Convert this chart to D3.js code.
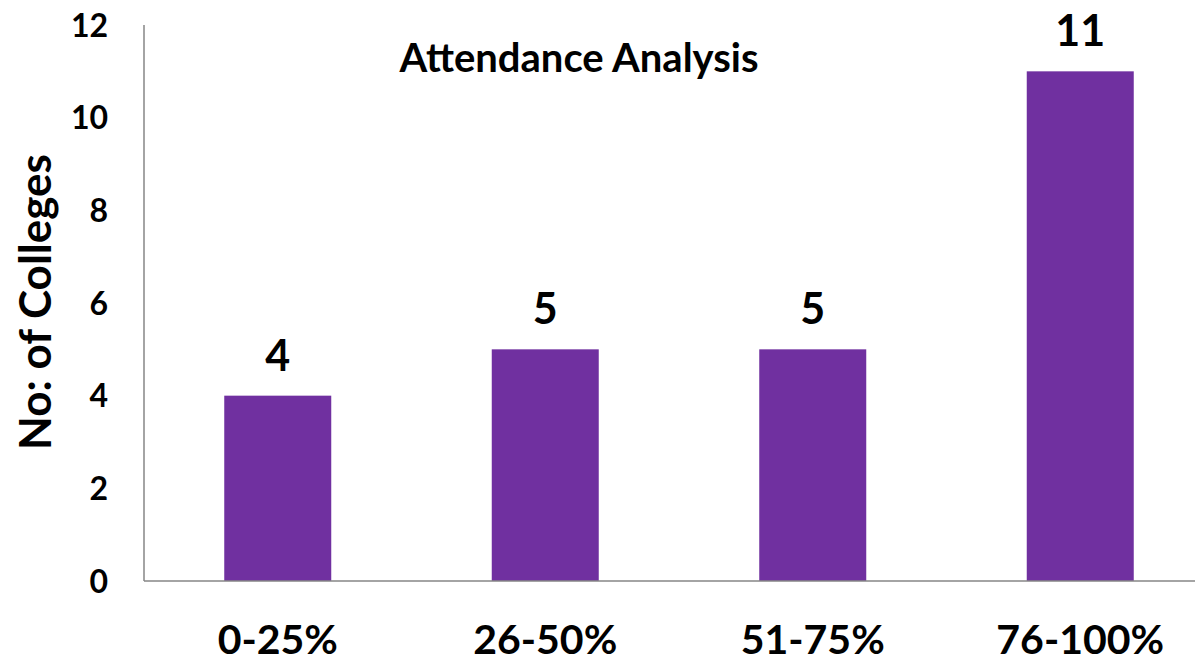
<!DOCTYPE html>
<html>
<head>
<meta charset="utf-8">
<script src="https://cdn.jsdelivr.net/npm/d3@7"></script>
<style>
  html, body { margin: 0; padding: 0; background: #fff; }
  text { font-family: Lato, "Open Sans", sans-serif; font-weight: bold; fill: #000; }
</style>
</head>
<body>
<svg id="chart" width="1195" height="663"></svg>
<script>
const categories = ["0-25%", "26-50%", "51-75%", "76-100%"];
const values = [4, 5, 5, 11];
const yTicks = [0, 2, 4, 6, 8, 10, 12];
const title = "Attendance Analysis";
const yTitle = "No: of Colleges";

const svg = d3.select("#chart");
const plotLeft = 144, plotRight = 1214, plotTop = 25, plotBottom = 581;

const x = d3.scaleBand().domain(categories).range([plotLeft, plotRight])
  .paddingInner(0.6).paddingOuter(0.3);
const y = d3.scaleLinear().domain([0, 12]).range([plotBottom, plotTop]);

// bars
svg.selectAll("rect.bar").data(values).join("rect")
  .attr("class", "bar")
  .attr("x", (d, i) => x(categories[i]))
  .attr("y", d => y(d))
  .attr("width", x.bandwidth())
  .attr("height", d => y(0) - y(d))
  .attr("fill", "#7030A0");

// axes lines
svg.append("line").attr("x1", plotLeft).attr("x2", plotLeft).attr("y1", plotTop).attr("y2", plotBottom)
  .attr("stroke", "#868686").attr("stroke-width", 1.5);
svg.append("line").attr("x1", plotLeft).attr("x2", 1195).attr("y1", plotBottom).attr("y2", plotBottom)
  .attr("stroke", "#868686").attr("stroke-width", 1.5);

// y tick labels
svg.selectAll("text.ytick").data(yTicks).join("text")
  .attr("class", "ytick")
  .attr("x", 108)
  .attr("y", d => y(d))
  .attr("dy", "0.36em")
  .attr("text-anchor", "end")
  .style("font-size", "32px")
  .text(d => d);

// x labels
svg.selectAll("text.xlab").data(categories).join("text")
  .attr("class", "xlab")
  .attr("x", d => x(d) + x.bandwidth() / 2)
  .attr("y", 654)
  .attr("text-anchor", "middle")
  .style("font-size", "41px")
  .text(d => d);

// value labels
svg.selectAll("text.val").data(values).join("text")
  .attr("class", "val")
  .attr("x", (d, i) => x(categories[i]) + x.bandwidth() / 2)
  .attr("y", d => y(d) - 25)
  .attr("text-anchor", "middle")
  .style("font-size", "43px")
  .text(d => d);

// title
svg.append("text")
  .attr("x", 579).attr("y", 72)
  .attr("text-anchor", "middle")
  .style("font-size", "40px")
  .text(title);

// y axis title
svg.append("text")
  .attr("transform", "translate(51,302) rotate(-90)")
  .attr("text-anchor", "middle")
  .style("font-size", "44px")
  .text(yTitle);
</script>
</body>
</html>
